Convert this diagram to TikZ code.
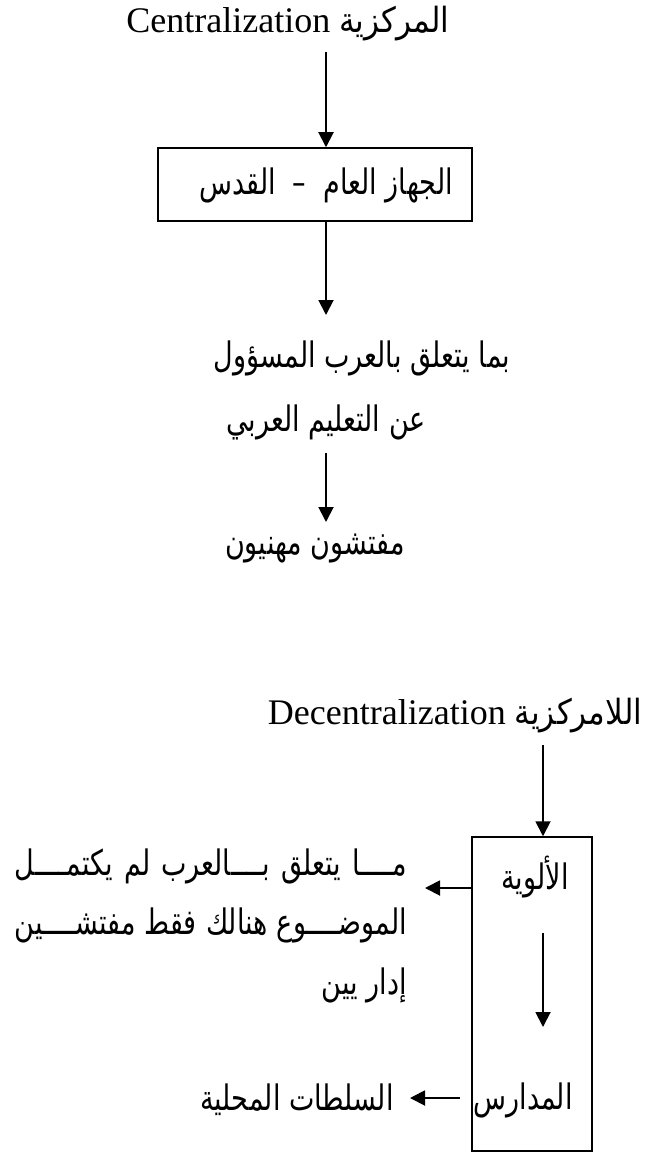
\documentclass[tikz,border=0pt]{standalone}
\usepackage{graphicx}
\usepackage{fontspec}
\setmainfont{Liberation Serif}
\newfontfamily\ar[Script=Arabic]{DejaVu Sans}
\TeXXeTstate=1
\usetikzlibrary{arrows.meta}
\newcommand{\AR}[1]{\scalebox{1}[1.3]{\beginR #1\endR}}
\newcommand{\ART}[1]{\scalebox{1}[1.12]{\beginR #1\endR}}
\begin{document}
\begin{tikzpicture}[x=1pt,y=-1pt,
  arr/.style={-{Triangle[length=15pt,width=15pt]}, line width=1.9pt},
  boxed/.style={draw, line width=1.5pt, inner sep=0pt},
  lat/.style={font=\fontsize{36}{40}\selectfont, inner sep=0pt},
  arb/.style={font=\ar\fontsize{27}{32}\selectfont, inner sep=0pt}]
\useasboundingbox (0,0) rectangle (653,1153);
% Top: centralization
\node[lat] (t1) at (288,24) {Centralization {\ar\fontsize{31}{36}\selectfont\ART{المركزية}}};
\coordinate (c1) at (326,52);
\node[boxed, minimum width=314pt, minimum height=73pt] (b1) at (315,184.5) {};
\node[arb] (bt1) at (326,185) {\AR{الجهاز العام \ – \ القدس}};
\draw[arr] (c1) -- (c1 |- b1.north);
\coordinate (c2) at (326,315);
\draw[arr] (b1.south -| c1) -- (c2);
\node[arb] (l1) at (362,358) {\AR{بما يتعلق بالعرب المسؤول}};
\node[arb] (l2) at (326,422) {\AR{عن التعليم العربي}};
\coordinate (c3) at (326,453);
\coordinate (c4) at (326,522);
\draw[arr] (c3) -- (c4);
\node[arb] (l3) at (315,548) {\AR{مفتشون مهنيون}};
% Bottom: decentralization
\node[lat] (t2) at (455,716) {Decentralization {\ar\fontsize{31}{36}\selectfont\ART{اللامركزية}}};
\coordinate (c5) at (543,745);
\node[boxed, minimum width=120pt, minimum height=314pt] (b2) at (532,994) {};
\draw[arr] (c5) -- (c5 |- b2.north);
\node[arb] (p1) at (535,877) {\AR{الألوية}};
\coordinate (c6) at (425,888);
\draw[arr] (b2.west |- c6) -- (c6);
\coordinate (c7) at (543,933);
\coordinate (c8) at (543,1027);
\draw[arr] (c7) -- (c8);
\node[arb] (p2) at (523,1100) {\AR{المدارس}};
\coordinate (c9) at (460,1098);
\coordinate (c10) at (410,1098);
\draw[arr] (c9) -- (c10);
\node[arb] (p3) at (297,1100) {\AR{السلطات المحلية}};
\node[arb, anchor=east] (q1) at (407,866) {\scalebox{1}[1.3]{\makebox[392pt][s]{\beginR مــــا يتعلق بــــالعرب لم يكتمــــل\endR}}};
\node[arb, anchor=east] (q2) at (407,925) {\scalebox{1}[1.3]{\makebox[392pt][s]{\beginR الموضــــوع هنالك فقط مفتشــــين\endR}}};
\node[arb, anchor=east] (q3) at (407,985) {\AR{إدار يين}};
\end{tikzpicture}
\end{document}
